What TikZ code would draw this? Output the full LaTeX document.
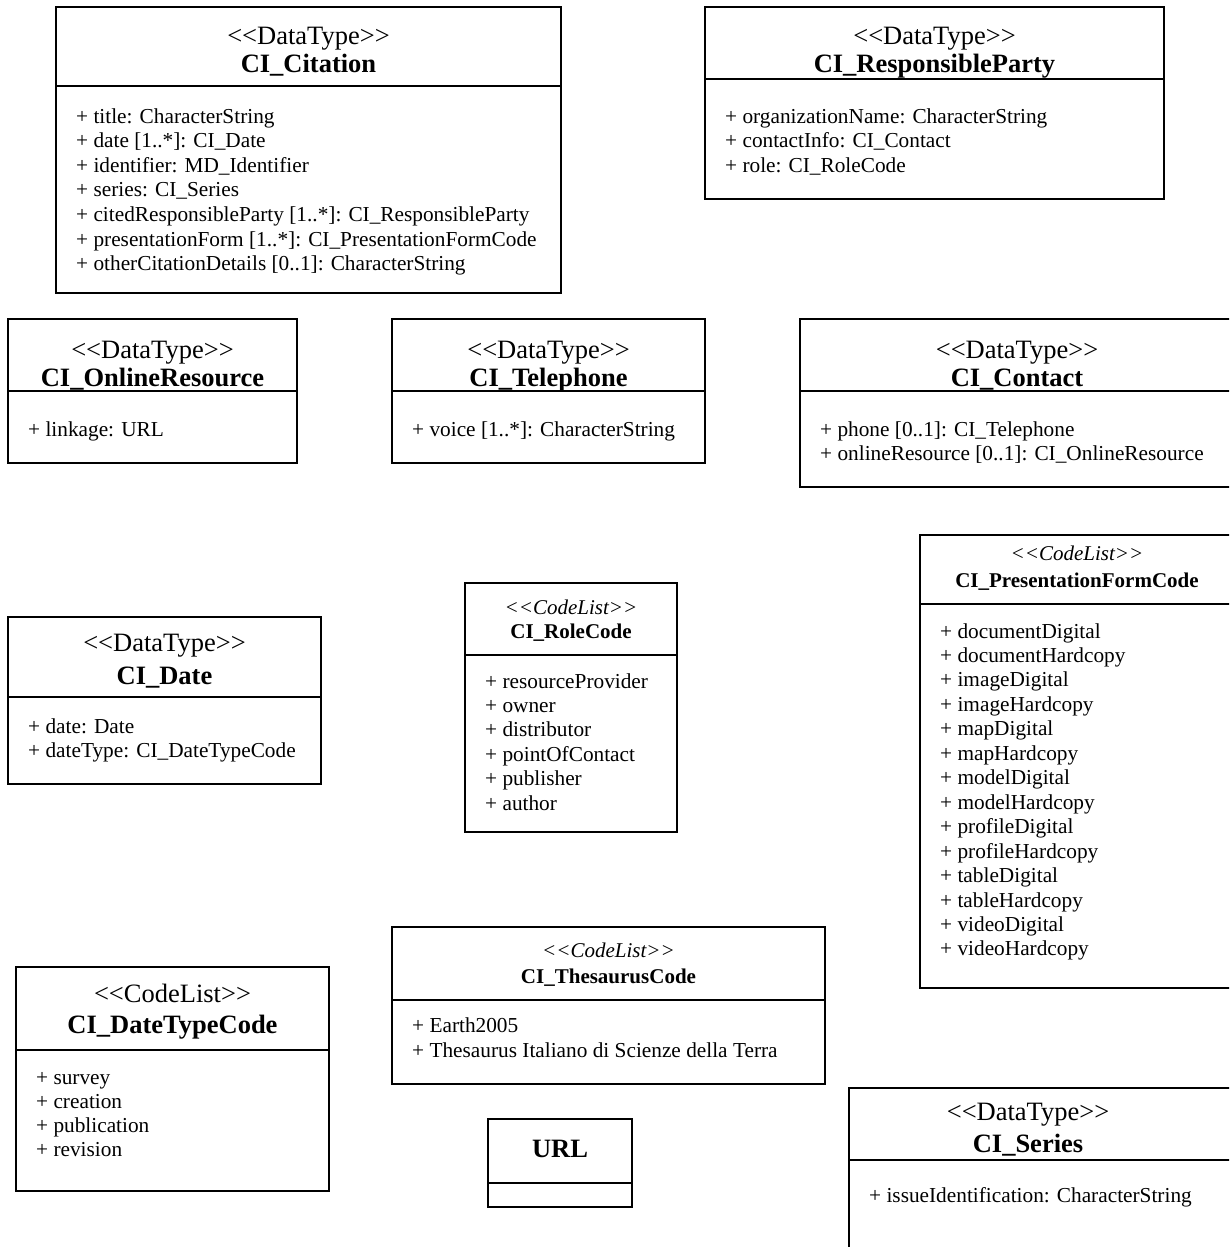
\documentclass[tikz,border=0pt]{standalone}
\usepackage{fontspec}
\setmainfont{Liberation Serif}
\newcommand\guil[1]{<\kern0pt<#1>\kern0pt>}
\newcommand\umlframe[5]{%
  \draw[frame] (#1,#2) rectangle (#3,#4);
  \draw[frame] (#1,#5) -- (#3,#5);}
\tikzset{
  frame/.style={draw=black, line width=1.6pt},
  stereobig/.style={anchor=base, inner sep=0pt, font=\fontsize{26.5}{27}\selectfont},
  namebig/.style={anchor=base, inner sep=0pt, font=\fontsize{26.5}{27}\selectfont\bfseries},
  stereosmall/.style={anchor=base, inner sep=0pt, font=\fontsize{21}{21}\selectfont\itshape},
  namesmall/.style={anchor=base, inner sep=0pt, font=\fontsize{21}{21}\selectfont\bfseries},
  attr/.style={anchor=base west, inner sep=0pt, font=\fontsize{21.3}{24.5}\selectfont},
}
\begin{document}
\begin{tikzpicture}[x=1pt,y=-1pt]
\clip (0,0) rectangle (1229,1247);
\fill[white] (0,0) rectangle (1229,1247);

% CI_Citation
\umlframe{56}{7}{561}{293}{86}
\node[stereobig] (citS) at (308.5,45) {\guil{DataType}};
\node[namebig] (citN) at (308.5,73) {CI\_Citation};
\foreach \t [count=\i from 0] in {{+ title: CharacterString},{+ date [1..*]: CI\_Date},{+ identifier: MD\_Identifier},{+ series: CI\_Series},{+ citedResponsibleParty [1..*]: CI\_ResponsibleParty},{+ presentationForm [1..*]: CI\_PresentationFormCode},{+ otherCitationDetails [0..1]: CharacterString}}
  \node[attr] (cit-\i) at (76,{123+24.65*\i}) {\t};

% CI_ResponsibleParty
\umlframe{705}{7}{1164}{199}{79}
\node[stereobig] (rpS) at (934.5,45) {\guil{DataType}};
\node[namebig] (rpN) at (934.5,73) {CI\_ResponsibleParty};
\foreach \t [count=\i from 0] in {{+ organizationName: CharacterString},{+ contactInfo: CI\_Contact},{+ role: CI\_RoleCode}}
  \node[attr] (rp-\i) at (725,{123+24.5*\i}) {\t};

% CI_OnlineResource
\umlframe{8}{319}{297}{463}{391}
\node[stereobig] (onlS) at (152.5,358) {\guil{DataType}};
\node[namebig] (onlN) at (152.5,386) {CI\_OnlineResource};
\node[attr] (onl-0) at (28,436) {+ linkage: URL};

% CI_Telephone
\umlframe{392}{319}{705}{463}{391}
\node[stereobig] (telS) at (548.5,358) {\guil{DataType}};
\node[namebig] (telN) at (548.5,386) {CI\_Telephone};
\node[attr] (tel-0) at (412,436) {+ voice [1..*]: CharacterString};

% CI_Contact
\umlframe{800}{319}{1236}{487}{391}
\node[stereobig] (conS) at (1017,358) {\guil{DataType}};
\node[namebig] (conN) at (1017,386) {CI\_Contact};
\node[attr] (con-0) at (820,436) {+ phone [0..1]: CI\_Telephone};
\node[attr] (con-1) at (820,460.5) {+ onlineResource [0..1]: CI\_OnlineResource};

% CI_PresentationFormCode
\umlframe{920}{535}{1236}{988}{604}
\node[stereosmall] (pfcS) at (1077,560) {\guil{CodeList}};
\node[namesmall] (pfcN) at (1077,587) {CI\_PresentationFormCode};
\foreach \t [count=\i from 0] in {documentDigital,documentHardcopy,imageDigital,imageHardcopy,mapDigital,mapHardcopy,modelDigital,modelHardcopy,profileDigital,profileHardcopy,tableDigital,tableHardcopy,videoDigital,videoHardcopy}
  \node[attr] (pfc-\i) at (940,{638+24.46*\i}) {+ \t};

% CI_Date
\umlframe{8}{617}{321}{784}{697}
\node[stereobig] (dateS) at (164.5,651) {\guil{DataType}};
\node[namebig] (dateN) at (164.5,684) {CI\_Date};
\node[attr] (date-0) at (28,733) {+ date: Date};
\node[attr] (date-1) at (28,757.5) {+ dateType: CI\_DateTypeCode};

% CI_RoleCode
\umlframe{465}{583}{677}{832}{655}
\node[stereosmall] (roleS) at (571,614) {\guil{CodeList}};
\node[namesmall] (roleN) at (571,638) {CI\_RoleCode};
\foreach \t [count=\i from 0] in {resourceProvider,owner,distributor,pointOfContact,publisher,author}
  \node[attr] (role-\i) at (485,{688+24.4*\i}) {+ \t};

% CI_DateTypeCode
\umlframe{16}{967}{329}{1191}{1050}
\node[stereobig] (dtcS) at (172.5,1002) {\guil{CodeList}};
\node[namebig] (dtcN) at (172.5,1033) {CI\_DateTypeCode};
\foreach \t [count=\i from 0] in {survey,creation,publication,revision}
  \node[attr] (dtc-\i) at (36,{1084+24.2*\i}) {+ \t};

% CI_ThesaurusCode
\umlframe{392}{927}{825}{1084}{1000}
\node[stereosmall] (theS) at (608.5,957) {\guil{CodeList}};
\node[namesmall] (theN) at (608.5,983) {CI\_ThesaurusCode};
\node[attr] (the-0) at (412,1032) {+ Earth2005};
\node[attr] (the-1) at (412,1057) {+ Thesaurus Italiano di Scienze della Terra};

% URL
\umlframe{488}{1119}{632}{1207}{1183}
\node[namebig] (urlN) at (560,1157) {URL};

% CI_Series
\umlframe{849}{1088}{1236}{1262}{1160}
\node[stereobig] (serS) at (1028,1120) {\guil{DataType}};
\node[namebig] (serN) at (1028,1152) {CI\_Series};
\node[attr] (ser-0) at (869,1202) {+ issueIdentification: CharacterString};
\end{tikzpicture}
\end{document}
